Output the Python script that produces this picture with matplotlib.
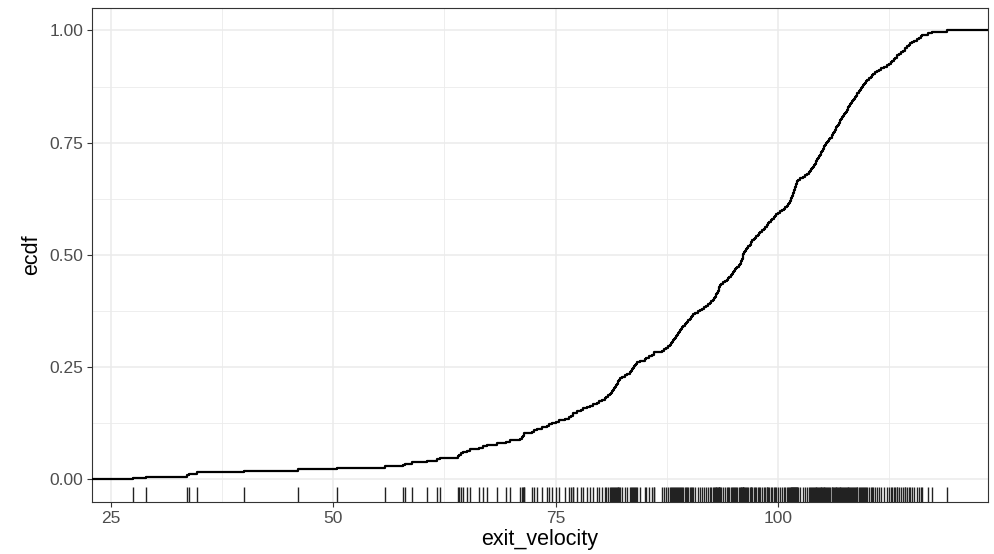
import numpy as np
import matplotlib
matplotlib.use("Agg")
import matplotlib.pyplot as plt
from matplotlib.ticker import FixedLocator, FormatStrFormatter

plt.rcParams["font.family"] = ["Liberation Sans", "DejaVu Sans"]

# batted-ball exit velocities (mph)
exit_velocity = [
    27.5, 29.0, 33.6, 33.8, 34.7, 40.0, 46.1, 50.4, 55.8, 57.9,
    58.1, 58.9, 60.5, 61.7, 62.0, 64.0, 64.2, 64.4, 64.6, 65.1,
    65.4, 66.4, 66.8, 67.3, 68.4, 69.4, 69.9, 71.0, 71.2, 71.3,
    71.4, 71.4, 72.3, 72.6, 72.9, 73.5, 74.0, 74.3, 74.6, 75.0,
    75.4, 76.0, 76.5, 76.7, 76.9, 77.0, 77.4, 77.8, 78.1, 78.5,
    78.9, 79.2, 79.6, 79.9, 80.2, 80.5, 80.7, 80.9, 81.1, 81.2,
    81.3, 81.5, 81.6, 81.7, 81.8, 81.9, 82.0, 82.0, 82.1, 82.2,
    82.5, 82.8, 83.0, 83.3, 83.5, 83.6, 83.7, 83.8, 83.9, 84.0,
    84.1, 84.5, 85.0, 85.2, 85.5, 85.8, 86.0, 86.1, 87.0, 87.2,
    87.4, 87.6, 87.8, 88.0, 88.1, 88.2, 88.3, 88.4, 88.5, 88.6,
    88.8, 88.9, 89.0, 89.1, 89.2, 89.3, 89.5, 89.6, 89.8, 89.9,
    90.1, 90.2, 90.3, 90.4, 90.7, 91.0, 91.2, 91.5, 91.7, 91.9,
    92.1, 92.3, 92.5, 92.7, 92.8, 92.9, 93.0, 93.0, 93.1, 93.2,
    93.3, 93.3, 93.4, 93.5, 93.6, 93.8, 94.0, 94.2, 94.4, 94.5,
    94.7, 94.8, 94.9, 95.0, 95.2, 95.3, 95.4, 95.6, 95.7, 95.8,
    95.8, 95.9, 96.0, 96.0, 96.1, 96.1, 96.2, 96.3, 96.4, 96.5,
    96.6, 96.8, 96.9, 97.0, 97.1, 97.3, 97.4, 97.5, 97.7, 97.9,
    98.0, 98.2, 98.4, 98.5, 98.7, 98.8, 98.9, 99.0, 99.2, 99.3,
    99.5, 99.6, 99.8, 100.0, 100.2, 100.4, 100.6, 100.8, 101.0, 101.1,
    101.2, 101.3, 101.4, 101.4, 101.5, 101.6, 101.7, 101.7, 101.8, 101.8,
    101.9, 101.9, 102.0, 102.0, 102.1, 102.1, 102.2, 102.5, 102.8, 103.0,
    103.2, 103.5, 103.6, 103.7, 103.8, 103.9, 104.0, 104.1, 104.2, 104.3,
    104.4, 104.5, 104.6, 104.7, 104.8, 104.8, 104.9, 105.0, 105.1, 105.2,
    105.3, 105.4, 105.5, 105.6, 105.7, 105.8, 106.0, 106.1, 106.2, 106.3,
    106.4, 106.5, 106.5, 106.6, 106.7, 106.8, 106.9, 107.0, 107.1, 107.2,
    107.3, 107.4, 107.5, 107.6, 107.7, 107.8, 107.9, 108.0, 108.1, 108.2,
    108.3, 108.4, 108.5, 108.6, 108.7, 108.8, 108.9, 109.1, 109.2, 109.3,
    109.4, 109.5, 109.6, 109.8, 109.9, 110.0, 110.2, 110.4, 110.5, 110.7,
    110.9, 111.1, 111.3, 111.6, 111.9, 112.2, 112.5, 112.7, 112.8, 113.0,
    113.1, 113.3, 113.4, 113.6, 113.8, 114.0, 114.2, 114.3, 114.5, 114.7,
    114.8, 115.0, 115.3, 115.6, 115.8, 116.0, 116.2, 116.8, 117.3, 119.0,
]

x_ticks = [25, 50, 75, 100]
y_ticks = [0.00, 0.25, 0.50, 0.75, 1.00]

x = np.sort(np.array(exit_velocity))
n = len(x)
ecdf = np.arange(1, n + 1) / n

lo, hi = x.min(), x.max()
pad = 0.05 * (hi - lo)
xlim = (lo - pad, hi + pad)
ylim = (-0.05, 1.05)

fig = plt.figure(figsize=(9.95, 5.54), dpi=100)
ax = fig.add_axes([0.0925, 0.094, 0.9005, 0.8916])

# grid like theme_bw
for v in x_ticks:
    ax.axvline(v, color="#EBEBEB", lw=1.1, zorder=0)
for v in [37.5, 62.5, 87.5, 112.5]:
    ax.axvline(v, color="#EBEBEB", lw=0.6, zorder=0)
for v in y_ticks:
    ax.axhline(v, color="#EBEBEB", lw=1.1, zorder=0)
for v in [0.125, 0.375, 0.625, 0.875]:
    ax.axhline(v, color="#EBEBEB", lw=0.6, zorder=0)

# step ecdf padded out to the panel edges
xs = np.concatenate([[xlim[0]], x, [xlim[1]]])
ys = np.concatenate([[0.0], ecdf, [1.0]])
ax.step(xs, ys, where="post", color="black", lw=1.6, zorder=3)

# rug along the bottom
ax.vlines(x, 0, 0.03, transform=ax.get_xaxis_transform(),
          color="#222222", lw=1.0, zorder=2)

ax.set_xlim(xlim)
ax.set_ylim(ylim)
ax.xaxis.set_major_locator(FixedLocator(x_ticks))
ax.yaxis.set_major_locator(FixedLocator(y_ticks))
ax.yaxis.set_major_formatter(FormatStrFormatter("%.2f"))
ax.tick_params(axis="both", length=3.5, width=0.8, color="#333333",
               labelcolor="#4D4D4D", labelsize=12.5, pad=3)

for s in ax.spines.values():
    s.set_color("#333333")
    s.set_linewidth(0.8)

ax.set_xlabel("exit_velocity", fontsize=15.5, labelpad=2)
ax.set_ylabel("ecdf", fontsize=15.5, labelpad=5)

fig.savefig("out.png", dpi=100)
